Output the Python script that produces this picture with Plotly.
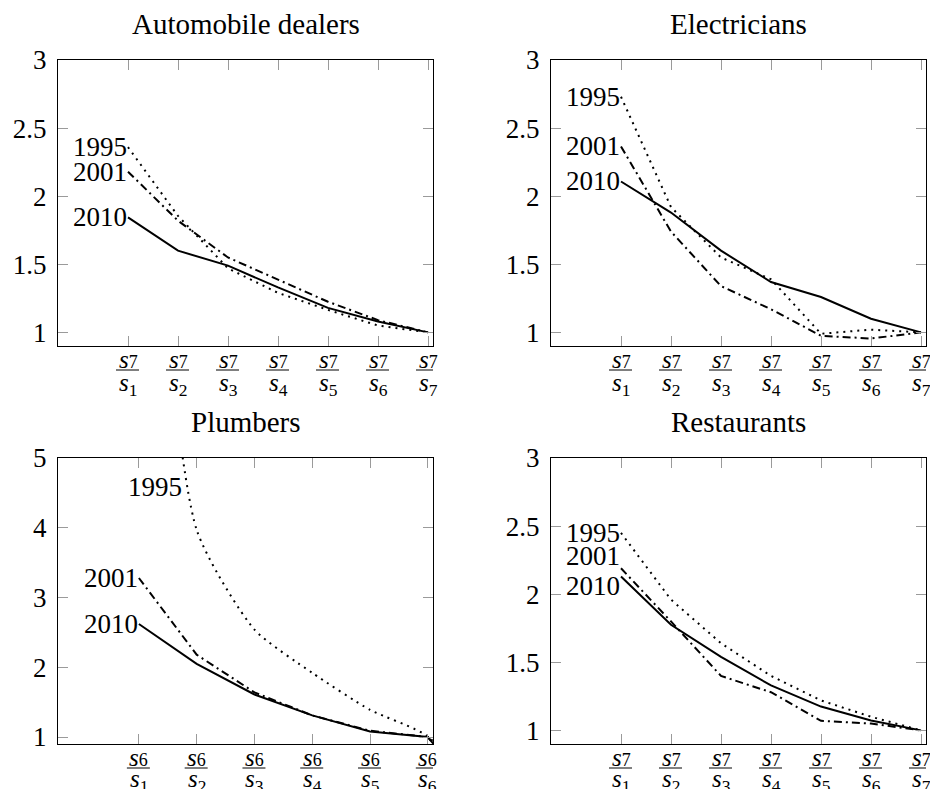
import plotly.graph_objects as go

# ---------------- data ----------------
years = ["1995", "2001", "2010"]

x7 = [1, 2, 3, 4, 5, 6, 7]
x6 = [1, 2, 3, 4, 5, 6, 7]  # last point (s6/s7) lies outside the shown range

auto_1995 = [2.36, 1.855, 1.47, 1.29, 1.165, 1.05, 1.0]
auto_2001 = [2.18, 1.82, 1.55, 1.385, 1.225, 1.09, 1.0]
auto_2010 = [1.845, 1.60, 1.49, 1.33, 1.18, 1.08, 1.0]

elec_1995 = [2.73, 1.92, 1.55, 1.39, 0.99, 1.02, 1.0]
elec_2001 = [2.365, 1.74, 1.34, 1.17, 0.975, 0.955, 1.0]
elec_2010 = [2.108, 1.88, 1.60, 1.37, 1.26, 1.10, 1.0]

plumb_1995 = [11.0, 3.97, 2.54, 1.92, 1.39, 1.01, 0.0]
plumb_2001 = [3.28, 2.18, 1.64, 1.31, 1.09, 1.0, 0.0]
plumb_2010 = [2.62, 2.05, 1.61, 1.31, 1.08, 1.0, 0.0]

rest_1995 = [2.45, 1.96, 1.64, 1.40, 1.22, 1.10, 1.0]
rest_2001 = [2.19, 1.80, 1.40, 1.28, 1.07, 1.05, 1.0]
rest_2010 = [2.13, 1.775, 1.54, 1.33, 1.175, 1.073, 1.0]

titles = ["Automobile dealers", "Electricians", "Plumbers", "Restaurants"]

ticks7 = [1, 2, 3, 4, 5, 6, 7]
ticks6 = [1, 2, 3, 4, 5, 6]
num7 = ["<i>s</i><span style='font-size:18px'>7</span>" for i in ticks7]
den7 = ["<i>s</i><sub>%d</sub>" % i for i in ticks7]
num6 = ["<i>s</i><span style='font-size:18px'>6</span>" for i in ticks6]
den6 = ["<i>s</i><sub>%d</sub>" % i for i in ticks6]

yt_small = [1, 1.5, 2, 2.5, 3]
yt_small_text = ["1", "1.5", "2", "2.5", "3"]
yt_big = [1, 2, 3, 4, 5]
yt_big_text = ["1", "2", "3", "4", "5"]

# ---------------- layout helpers ----------------
W, H = 930, 789
FONT = "Liberation Serif"

panels = [
    dict(title=titles[0], x=x7, ys=[auto_1995, auto_2001, auto_2010], tv=ticks7, num=num7, den=den7,
         yv=yt_small, ytxt=yt_small_text, xr=[-0.4, 7.1], yr=[0.9, 3.0], px=(58, 433), py=(60, 346),
         lshift={}, dshift=-38),
    dict(title=titles[1], x=x7, ys=[elec_1995, elec_2001, elec_2010], tv=ticks7, num=num7, den=den7,
         yv=yt_small, ytxt=yt_small_text, xr=[-0.4, 7.1], yr=[0.9, 3.0], px=(551, 926), py=(60, 346),
         lshift={}, dshift=-38),
    dict(title=titles[2], x=x6, ys=[plumb_1995, plumb_2001, plumb_2010], tv=ticks6, num=num6, den=den6,
         yv=yt_big, ytxt=yt_big_text, xr=[-0.4, 6.09], yr=[0.9, 5.0], px=(58, 433), py=(458, 744),
         lshift={}, dshift=-36),
    dict(title=titles[3], x=x7, ys=[rest_1995, rest_2001, rest_2010], tv=ticks7, num=num7, den=den7,
         yv=yt_small, ytxt=yt_small_text, xr=[-0.4, 7.1], yr=[0.9, 3.0], px=(551, 926), py=(458, 744),
         lshift={"2001": 12, "2010": -10}, dshift=-36),
]

dashes = {"1995": "2px,5px", "2001": "8px,4px,2px,4px", "2010": "solid"}

fig = go.Figure()
annotations = []
shapes = []
layout = {}

for i, p in enumerate(panels):
    n = "" if i == 0 else str(i + 1)
    xa, ya = "x" + n, "y" + n
    for yr_name, vals in zip(years, p["ys"]):
        fig.add_trace(go.Scatter(
            x=p["x"], y=vals, mode="lines", xaxis=xa, yaxis=ya,
            line=dict(color="black", width=2, dash=dashes[yr_name],
                      shape="spline" if (i == 2 and yr_name == "1995") else "linear",
                      smoothing=0.6),
            showlegend=False, hoverinfo="skip"))
        # year labels next to first point
        if i == 2 and yr_name == "1995":
            ax_x, ax_y = 1.76, 4.58
        else:
            ax_x, ax_y = p["x"][0], vals[0]
        annotations.append(dict(x=ax_x, y=ax_y, xref=xa, yref=ya, text=yr_name,
                                showarrow=False, xanchor="right", yanchor="middle",
                                xshift=1, yshift=p["lshift"].get(yr_name, 0),
                                font=dict(family=FONT, size=27, color="black")))
    # fraction tick labels
    for t, nu, de in zip(p["tv"], p["num"], p["den"]):
        annotations.append(dict(x=t, y=0, xref=xa, yref=ya + " domain", text=nu, showarrow=False,
                                xanchor="center", yanchor="middle", yshift=-13,
                                font=dict(family=FONT, size=25, color="black")))
        annotations.append(dict(x=t, y=0, xref=xa, yref=ya + " domain", text=de, showarrow=False,
                                xanchor="center", yanchor="middle", yshift=p["dshift"],
                                font=dict(family=FONT, size=25, color="black")))
        shapes.append(dict(type="line", xref=xa, yref=ya + " domain",
                           xsizemode="pixel", xanchor=t, x0=-12, x1=11,
                           ysizemode="pixel", yanchor=0, y0=-24, y1=-24,
                           line=dict(color="black", width=1)))
    x0, x1 = p["px"]
    y0, y1 = p["py"]
    dom_x = [x0 / W, x1 / W]
    dom_y = [1 - y1 / H, 1 - y0 / H]
    layout["xaxis" + n] = dict(
        domain=dom_x, range=p["xr"], anchor=ya, tickmode="array", tickvals=p["tv"],
        showticklabels=False, automargin=False,
        ticks="inside", ticklen=10, tickcolor="#9a9a9a", tickwidth=1,
        showline=True, linecolor="black", linewidth=1, mirror="ticks",
        showgrid=False, zeroline=False)
    layout["yaxis" + n] = dict(
        domain=dom_y, range=p["yr"], anchor=xa, tickmode="array", tickvals=p["yv"], ticktext=p["ytxt"],
        automargin=False,
        ticks="inside", ticklen=10, tickcolor="#9a9a9a", tickwidth=1,
        showline=True, linecolor="black", linewidth=1, mirror="ticks",
        showgrid=False, zeroline=False, ticklabelstandoff=5,
        tickfont=dict(family=FONT, size=27, color="black"))
    annotations.append(dict(x=(dom_x[0] + dom_x[1]) / 2, y=dom_y[1], xref="paper", yref="paper",
                            text=p["title"], showarrow=False, xanchor="center", yanchor="middle",
                            yshift=36, font=dict(family=FONT, size=29, color="black")))

fig.update_layout(
    width=W, height=H,
    margin=dict(l=0, r=0, t=0, b=0),
    paper_bgcolor="white", plot_bgcolor="white",
    annotations=annotations,
    shapes=shapes,
    **layout,
)

fig.write_html("out.html", config={"displayModeBar": False},
               post_script="document.body.style.margin='0px';document.body.style.overflow='hidden';")
